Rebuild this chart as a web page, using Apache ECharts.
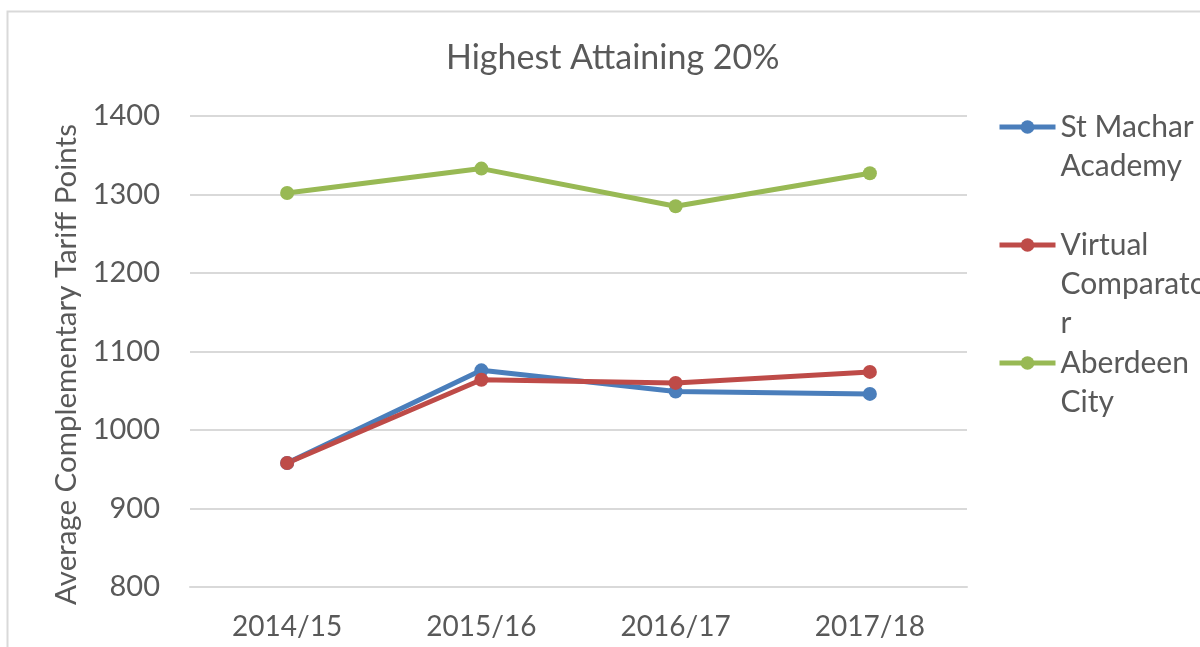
<!DOCTYPE html>
<html>
<head>
<meta charset="utf-8">
<script src="https://cdn.jsdelivr.net/npm/echarts@6/dist/echarts.min.js"></script>
<style>
  html, body { margin: 0; padding: 0; background: #fff; }
  #main { width: 1200px; height: 647px; }
</style>
</head>
<body>
<div id="main"></div>
<script>
// 数据
const years = ['2014/15', '2015/16', '2016/17', '2017/18']
const stMachar = [958, 1076, 1049, 1046]
const virtualComparator = [958, 1064, 1060, 1074]
const aberdeenCity = [1302, 1333, 1285, 1327]
const seriesNames = ['St Machar Academy', 'Virtual Comparator', 'Aberdeen City']
// 图例里的换行文字
const legendLabels = {
  'St Machar Academy': 'St Machar\nAcademy',
  'Virtual Comparator': 'Virtual\nComparato\nr',
  'Aberdeen City': 'Aberdeen\nCity'
}

const font = 'Lato, "Open Sans", sans-serif'
const textColor = '#595959'
const colors = ['#4a7ebb', '#be4b48', '#98b954']
const legendLineHeight = 39

const chart = echarts.init(document.getElementById('main'))

// 每个图例单独放，前面补空行让第一行和图标对齐
// iconY 是图标中心的位置
function makeLegend(name, iconY) {
  const lines = legendLabels[name].split('\n').length
  const boxH = (2 * lines - 1) * legendLineHeight
  return {
    data: [name],
    left: 992,
    top: iconY - boxH / 2,
    orient: 'vertical',
    itemWidth: 56,
    itemHeight: 17,
    itemGap: 0,
    lineStyle: { width: 5 },
    formatter: n => '\n'.repeat(lines - 1) + legendLabels[n],
    textStyle: {
      fontFamily: font,
      fontSize: 30,
      color: textColor,
      lineHeight: legendLineHeight
    }
  }
}

function makeSeries(name, data, color) {
  return {
    name: name,
    type: 'line',
    data: data,
    symbol: 'circle',
    symbolSize: 14,
    color: color,
    lineStyle: { width: 5, color: color },
    itemStyle: { color: color }
  }
}

const option = {
  backgroundColor: '#fff',
  animation: false,
  title: {
    text: 'Highest Attaining 20%',
    left: 441,
    top: 36,
    textStyle: {
      fontFamily: font,
      fontSize: 34,
      fontWeight: 'normal',
      color: textColor
    }
  },
  legend: [
    makeLegend(seriesNames[0], 122),
    makeLegend(seriesNames[1], 240),
    makeLegend(seriesNames[2], 358)
  ],
  grid: {
    left: 190,
    right: 233,
    top: 116,
    bottom: 60,
    containLabel: false
  },
  xAxis: {
    type: 'category',
    data: years,
    boundaryGap: true,
    axisLine: { show: true, lineStyle: { color: '#d9d9d9', width: 2 } },
    axisTick: { show: false },
    axisLabel: {
      fontFamily: font,
      fontSize: 28,
      color: textColor,
      margin: 26
    }
  },
  yAxis: {
    type: 'value',
    min: 800,
    max: 1400,
    interval: 100,
    name: 'Average Complementary Tariff Points',
    nameLocation: 'middle',
    nameGap: 108,
    nameTextStyle: {
      fontFamily: font,
      fontSize: 29.5,
      color: textColor,
      padding: [0, 26, 0, 0]
    },
    axisLine: { show: false },
    axisTick: { show: false },
    axisLabel: {
      fontFamily: font,
      fontSize: 29,
      color: textColor,
      margin: 30,
      formatter: v => String(v)
    },
    splitLine: { lineStyle: { color: '#d9d9d9', width: 2 } }
  },
  graphic: [{
    type: 'rect',
    shape: { x: 7.5, y: 11.5, width: 1300, height: 700 },
    style: { fill: 'none', stroke: '#d9d9d9', lineWidth: 2 },
    silent: true
  }],
  series: [
    makeSeries(seriesNames[0], stMachar, colors[0]),
    makeSeries(seriesNames[1], virtualComparator, colors[1]),
    makeSeries(seriesNames[2], aberdeenCity, colors[2])
  ]
}

chart.setOption(option)
</script>
</body>
</html>
